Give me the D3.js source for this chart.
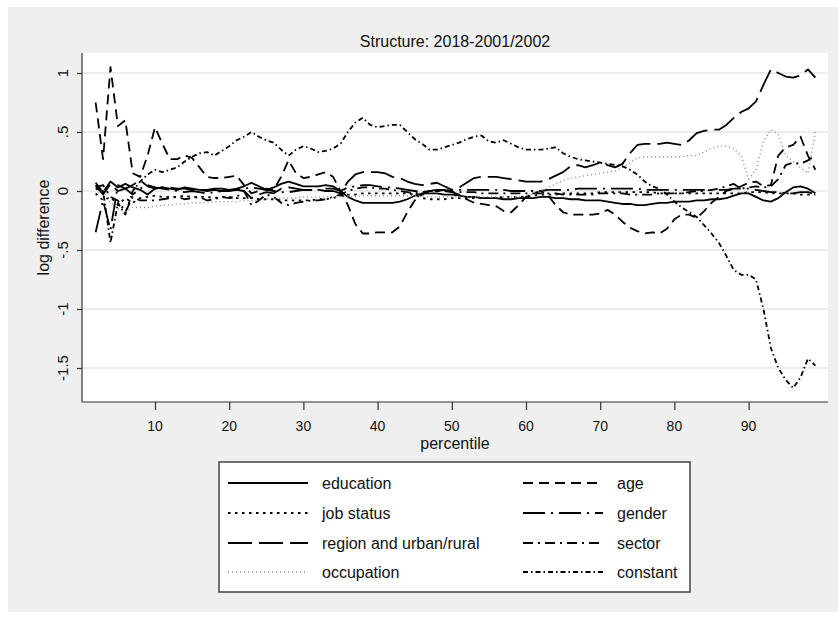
<!DOCTYPE html>
<html>
<head>
<meta charset="utf-8">
<script src="https://cdn.jsdelivr.net/npm/d3@7"></script>
<style>
  html, body { margin: 0; padding: 0; background: #ffffff; }
  svg { display: block; font-family: "Liberation Sans", Arial, sans-serif; }
</style>
</head>
<body>
<svg id="chart" width="838" height="618"></svg>
<script>
// Percentiles 2..99
const percentiles = d3.range(2, 100);

const education = [
  0.07, -0.01, 0.08, 0.03, 0.06, 0.03, 0.01, -0.03, 0.02, 0.03,
  0.02, 0.01, 0.03, 0.02, 0.01, 0.01, 0.02, 0.02, 0.01, 0.02,
  0.04, 0.07, 0.04, 0.01, 0.03, 0.06, 0.08, 0.06, 0.04, 0.04,
  0.04, 0.05, 0.04, 0.00, -0.05, -0.08, -0.10, -0.10, -0.10, -0.10,
  -0.10, -0.09, -0.07, -0.04, -0.02, -0.02, -0.02, -0.03, -0.03, -0.04,
  -0.05, -0.05, -0.06, -0.06, -0.06, -0.07, -0.07, -0.06, -0.06, -0.06,
  -0.05, -0.05, -0.06, -0.06, -0.07, -0.07, -0.08, -0.08, -0.08, -0.09,
  -0.10, -0.11, -0.11, -0.12, -0.12, -0.11, -0.10, -0.10, -0.09, -0.09,
  -0.09, -0.08, -0.08, -0.07, -0.07, -0.06, -0.04, -0.02, -0.02, -0.05,
  -0.08, -0.09, -0.06, -0.01, 0.03, 0.04, 0.02, -0.02
];

const age = [
  0.75, 0.27, 1.05, 0.55, 0.60, 0.15, 0.12, 0.30, 0.54, 0.40,
  0.27, 0.27, 0.30, 0.28, 0.20, 0.12, 0.11, 0.11, 0.12, 0.13,
  0.05, -0.02, 0.00, 0.02, 0.01, 0.12, 0.26, 0.15, 0.11, 0.12,
  0.14, 0.16, 0.12, 0.00, -0.12, -0.28, -0.36, -0.36, -0.35, -0.35,
  -0.35, -0.30, -0.18, -0.08, -0.03, 0.00, 0.00, 0.01, -0.01, -0.03,
  -0.07, -0.10, -0.11, -0.12, -0.13, -0.17, -0.18, -0.12, -0.05, -0.02,
  0.00, -0.04, -0.12, -0.18, -0.20, -0.20, -0.20, -0.20, -0.19, -0.16,
  -0.20, -0.26, -0.31, -0.34, -0.36, -0.35, -0.36, -0.32, -0.24, -0.20,
  -0.20, -0.23, -0.17, -0.10, -0.05, 0.00, 0.02, 0.04, 0.07, 0.08,
  0.04, 0.05, 0.30, 0.37, 0.39, 0.46, 0.30, 0.18
];

const jobStatus = [
  -0.02, -0.08, -0.05, -0.12, -0.06, -0.10, -0.06, -0.05, -0.04, -0.05,
  -0.05, -0.05, -0.04, -0.05, -0.05, -0.05, -0.06, -0.05, -0.05, -0.06,
  -0.06, -0.06, -0.07, -0.07, -0.07, -0.08, -0.08, -0.08, -0.08, -0.08,
  -0.07, -0.07, -0.06, -0.04, -0.03, -0.03, -0.02, -0.02, -0.02, -0.02,
  -0.02, -0.02, -0.02, -0.03, -0.06, -0.07, -0.07, -0.07, -0.06, -0.06,
  -0.06, -0.06, -0.06, -0.06, -0.06, -0.05, -0.05, -0.05, -0.05, -0.04,
  -0.03, -0.03, -0.03, -0.02, -0.02, -0.02, -0.02, -0.02, -0.01, -0.01,
  -0.01, -0.01, -0.01, -0.01, -0.01, -0.01, -0.02, -0.02, -0.02, -0.02,
  -0.02, -0.02, -0.02, -0.02, -0.02, -0.02, -0.02, -0.02, -0.01, -0.01,
  -0.01, -0.02, -0.02, -0.02, -0.02, -0.03, -0.03, -0.03
];

const gender = [
  -0.35, -0.08, -0.33, 0.05, 0.02, -0.03, 0.02, 0.05, 0.03, 0.02,
  0.01, 0.00, -0.01, 0.00, -0.01, -0.02, -0.01, 0.00, 0.00, 0.01,
  0.02, 0.03, 0.02, 0.01, 0.00, -0.01, -0.01, 0.00, 0.01, 0.01,
  0.01, 0.02, 0.02, 0.00, 0.03, 0.04, 0.05, 0.05, 0.04, 0.03,
  0.03, 0.02, 0.01, 0.00, -0.01, 0.00, 0.01, 0.01, 0.00, 0.01,
  0.01, 0.01, 0.01, 0.01, 0.01, 0.01, 0.00, 0.00, 0.00, 0.00,
  0.00, 0.01, 0.01, 0.01, 0.01, 0.02, 0.02, 0.02, 0.02, 0.02,
  0.02, 0.02, 0.02, 0.02, 0.01, 0.01, 0.01, 0.01, 0.01, 0.01,
  0.01, 0.01, 0.01, 0.01, 0.01, 0.01, 0.02, 0.02, 0.02, 0.01,
  0.00, -0.01, -0.01, -0.02, -0.02, -0.01, -0.01, -0.03
];

const region = [
  0.05, -0.03, 0.06, 0.00, 0.02, 0.05, 0.09, 0.04, 0.02, 0.03,
  0.03, 0.02, 0.02, 0.01, 0.01, 0.00, 0.01, 0.00, 0.01, 0.01,
  0.00, -0.06, -0.03, -0.01, -0.02, 0.02, 0.03, 0.02, 0.01, 0.01,
  0.01, 0.00, 0.00, -0.02, 0.08, 0.14, 0.16, 0.16, 0.16, 0.15,
  0.12, 0.11, 0.08, 0.06, 0.05, 0.06, 0.07, 0.04, 0.01, 0.03,
  0.07, 0.11, 0.12, 0.12, 0.12, 0.11, 0.10, 0.09, 0.08, 0.08,
  0.08, 0.10, 0.13, 0.16, 0.21, 0.22, 0.20, 0.22, 0.24, 0.22,
  0.20, 0.23, 0.32, 0.39, 0.40, 0.40, 0.40, 0.41, 0.40, 0.39,
  0.43, 0.49, 0.51, 0.52, 0.52, 0.56, 0.62, 0.67, 0.70, 0.76,
  0.90, 1.03, 1.00, 0.97, 0.96, 0.98, 1.03, 0.96
];

const sector = [
  0.03, 0.05, -0.05, -0.08, -0.18, -0.05, -0.08, -0.08, -0.08, -0.07,
  -0.06, -0.05, -0.07, -0.06, -0.05, -0.08, -0.07, -0.05, -0.06, -0.05,
  0.00, -0.12, -0.08, -0.03, -0.05, -0.10, -0.12, -0.10, -0.09, -0.08,
  -0.08, -0.07, -0.05, -0.03, 0.00, 0.02, 0.03, 0.03, 0.02, 0.02,
  0.01, 0.00, -0.01, -0.02, -0.01, 0.00, 0.00, 0.00, -0.01, -0.01,
  -0.01, -0.01, -0.02, -0.02, -0.02, -0.02, -0.02, -0.02, -0.02, -0.02,
  -0.02, -0.02, -0.02, -0.03, -0.03, -0.03, -0.03, -0.03, -0.02, -0.02,
  -0.02, -0.02, -0.03, -0.03, -0.03, -0.03, -0.02, -0.02, -0.02, -0.02,
  -0.01, 0.00, 0.00, 0.01, 0.02, 0.04, 0.06, 0.02, 0.03, 0.04,
  0.03, 0.04, 0.10, 0.22, 0.24, 0.23, 0.26, 0.30
];

const occupation = [
  -0.04, 0.02, -0.10, -0.15, -0.18, -0.14, -0.14, -0.14, -0.13, -0.12,
  -0.12, -0.11, -0.11, -0.10, -0.10, -0.10, -0.09, -0.09, -0.09, -0.09,
  -0.08, -0.08, -0.08, -0.07, -0.06, -0.06, -0.06, -0.06, -0.05, -0.05,
  -0.05, -0.05, -0.05, -0.05, -0.05, -0.05, -0.04, -0.04, -0.04, -0.04,
  -0.04, -0.04, -0.04, -0.04, -0.04, -0.05, -0.05, -0.05, -0.05, -0.05,
  -0.05, -0.05, -0.05, -0.05, -0.05, -0.05, -0.05, -0.05, -0.04, -0.02,
  0.00, 0.03, 0.06, 0.09, 0.11, 0.12, 0.13, 0.14, 0.15, 0.16,
  0.17, 0.20, 0.24, 0.28, 0.29, 0.29, 0.29, 0.29, 0.29, 0.29,
  0.30, 0.30, 0.33, 0.36, 0.38, 0.38, 0.36, 0.30, 0.10, 0.18,
  0.42, 0.52, 0.48, 0.30, 0.25, 0.20, 0.15, 0.50
];

const constant = [
  0.02, 0.00, -0.44, -0.10, -0.20, 0.00, 0.08, 0.14, 0.18, 0.16,
  0.18, 0.20, 0.25, 0.29, 0.32, 0.33, 0.30, 0.34, 0.38, 0.43,
  0.46, 0.50, 0.46, 0.43, 0.41, 0.35, 0.30, 0.35, 0.38, 0.36,
  0.33, 0.34, 0.36, 0.40, 0.50, 0.58, 0.62, 0.56, 0.54, 0.55,
  0.56, 0.56, 0.50, 0.44, 0.40, 0.35, 0.35, 0.37, 0.39, 0.41,
  0.44, 0.46, 0.47, 0.42, 0.41, 0.43, 0.40, 0.37, 0.35, 0.35,
  0.35, 0.36, 0.37, 0.32, 0.29, 0.27, 0.26, 0.25, 0.24, 0.23,
  0.22, 0.21, 0.18, 0.14, 0.08, 0.04, 0.02, -0.03, -0.09, -0.14,
  -0.18, -0.22, -0.29, -0.36, -0.44, -0.55, -0.67, -0.71, -0.71, -0.75,
  -1.00, -1.33, -1.50, -1.60, -1.67, -1.58, -1.42, -1.48
];

const xTicks = [10, 20, 30, 40, 50, 60, 70, 80, 90];
const yTicks = [1, 0.5, 0, -0.5, -1, -1.5];
const yTickLabels = ["1", ".5", "0", "-.5", "-1", "-1.5"];

const titleText = "Structure: 2018-2001/2002";
const xTitle = "percentile";
const yTitle = "log difference";

// Series, in legend order (two columns, row by row)
const seriesNames = ["education", "age", "job status", "gender",
  "region and urban/rural", "sector", "occupation", "constant"];
const seriesValues = [education, age, jobStatus, gender,
  region, sector, occupation, constant];

// Line look for each series
const styles = {
  "education":              { dash: null,            color: "#000", width: 1.8 },
  "age":                    { dash: "10,6",          color: "#000", width: 1.8 },
  "job status":             { dash: "2.5,4.5",       color: "#000", width: 1.8 },
  "gender":                 { dash: "22,6,2,6",      color: "#000", width: 1.8 },
  "region and urban/rural": { dash: "24,7",          color: "#000", width: 1.8 },
  "sector":                 { dash: "10,5,2,5",      color: "#000", width: 1.8 },
  "occupation":             { dash: "1,3",           color: "#888", width: 1.4 },
  "constant":               { dash: "5,3,1.5,3",     color: "#000", width: 1.8 }
};

const svg = d3.select("#chart");
const font = "'Liberation Sans', Arial, sans-serif";

// Outer grey graph region
svg.append("rect").attr("x", 8).attr("y", 7).attr("width", 830).attr("height", 605)
  .attr("fill", "#efefef");

const plot = { left: 82, right: 828, top: 53, bottom: 402 };
svg.append("rect").attr("x", plot.left).attr("y", plot.top)
  .attr("width", plot.right - plot.left).attr("height", plot.bottom - plot.top)
  .attr("fill", "#ffffff");

const x = d3.scaleLinear().domain([10, 90]).range([155, 748.6]);
const y = d3.scaleLinear().domain([-1.5, 1]).range([368, 73]);

// Grid lines
svg.append("g").selectAll("line").data(yTicks).join("line")
  .attr("x1", plot.left).attr("x2", plot.right)
  .attr("y1", d => y(d)).attr("y2", d => y(d))
  .attr("stroke", "#e6e6e6").attr("stroke-width", 1.5);

// Y axis
const yAxis = svg.append("g").attr("transform", `translate(${plot.left},0)`)
  .call(d3.axisLeft(y).tickValues(yTicks).tickSize(5).tickFormat(""));
yAxis.select(".domain").remove();
yAxis.selectAll(".tick line").attr("stroke", "#333").attr("stroke-width", 1.2);
svg.append("line").attr("x1", plot.left).attr("x2", plot.left)
  .attr("y1", plot.top).attr("y2", plot.bottom)
  .attr("stroke", "#333").attr("stroke-width", 1.2);

svg.append("g").selectAll("text").data(yTicks).join("text")
  .attr("transform", d => `translate(68,${y(d)}) rotate(-90)`)
  .attr("text-anchor", "middle")
  .style("font-family", font).style("font-size", "15px").attr("fill", "#111")
  .text((d, i) => yTickLabels[i]);

// X axis
const xAxis = svg.append("g").attr("transform", `translate(0,${plot.bottom})`)
  .call(d3.axisBottom(x).tickValues(xTicks).tickSize(8).tickFormat(""));
xAxis.select(".domain").remove();
xAxis.selectAll(".tick line").attr("stroke", "#333").attr("stroke-width", 1.2);
svg.append("line").attr("x1", plot.left).attr("x2", plot.right)
  .attr("y1", plot.bottom).attr("y2", plot.bottom)
  .attr("stroke", "#333").attr("stroke-width", 1.2);

svg.append("g").selectAll("text").data(xTicks).join("text")
  .attr("x", d => x(d)).attr("y", 431)
  .attr("text-anchor", "middle")
  .style("font-family", font).style("font-size", "14px").attr("fill", "#111")
  .text(d => d);

// Titles
svg.append("text").attr("x", 455).attr("y", 47).attr("text-anchor", "middle")
  .style("font-family", font).style("font-size", "16px").attr("fill", "#111")
  .text(titleText);
svg.append("text").attr("x", 455).attr("y", 449).attr("text-anchor", "middle")
  .style("font-family", font).style("font-size", "16px").attr("fill", "#111")
  .text(xTitle);
svg.append("text").attr("transform", `translate(49,${(plot.top + plot.bottom) / 2}) rotate(-90)`)
  .attr("text-anchor", "middle")
  .style("font-family", font).style("font-size", "16px").attr("fill", "#111")
  .text(yTitle);

// Series lines
const line = d3.line().x((d, i) => x(percentiles[i])).y(d => y(d));
const linesG = svg.append("g");
seriesNames.forEach((name, k) => {
  const s = styles[name];
  linesG.append("path").datum(seriesValues[k])
    .attr("d", line)
    .attr("fill", "none")
    .attr("stroke", s.color)
    .attr("stroke-width", s.width)
    .attr("stroke-linejoin", "round")
    .attr("stroke-dasharray", s.dash);
});

// Legend
const legend = svg.append("g");
legend.append("rect").attr("x", 219).attr("y", 462).attr("width", 471).attr("height", 130)
  .attr("fill", "#ffffff").attr("stroke", "#444").attr("stroke-width", 1.5);
const rowY = [483, 513, 543, 572];
const colX = [228, 523];
seriesNames.forEach((name, k) => {
  const col = k % 2, row = Math.floor(k / 2);
  const s = styles[name];
  const ly = rowY[row];
  legend.append("line")
    .attr("x1", colX[col]).attr("x2", colX[col] + 80)
    .attr("y1", ly).attr("y2", ly)
    .attr("stroke", s.color).attr("stroke-width", s.width)
    .attr("stroke-dasharray", s.dash);
  legend.append("text")
    .attr("x", colX[col] + 94).attr("y", ly + 6)
    .style("font-family", font).style("font-size", "16px").attr("fill", "#111")
    .text(name);
});
</script>
</body>
</html>
